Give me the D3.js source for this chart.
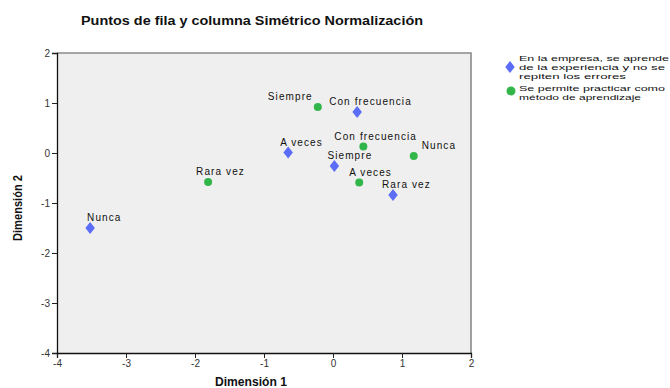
<!DOCTYPE html>
<html>
<head>
<meta charset="utf-8">
<script src="https://cdn.jsdelivr.net/npm/d3@7"></script>
<style>
  html, body { margin: 0; padding: 0; background: #fff; }
  svg { display: block; font-family: "Liberation Sans", Arial, sans-serif; }
</style>
</head>
<body>
<svg id="chart" width="670" height="388"></svg>
<script>
// Category labels shared by both variables
const rowCategories = ["Nunca", "A veces", "Con frecuencia", "Siempre", "Rara vez"];
const colCategories = ["Siempre", "Con frecuencia", "Nunca", "A veces", "Rara vez"];

// Row points (dimension 1, dimension 2)
const rowDim1 = [-3.52, -0.65, 0.35, 0.02, 0.87];
const rowDim2 = [-1.50, 0.01, 0.82, -0.26, -0.84];

// Column points (dimension 1, dimension 2)
const colDim1 = [-0.22, 0.44, 1.17, 0.38, -1.81];
const colDim2 = [0.92, 0.13, -0.06, -0.59, -0.58];

// Horizontal nudges for the point labels (px from the marker)
const rowLabelDx = [-3, -8, -28, -7, -11];
const colLabelDx = [-50, -29, 8, -10, -12];

const axisTicks = [-4, -3, -2, -1, 0, 1, 2];

const seriesNames = [
  ["En la empresa, se aprende", "de la experiencia y no se", "repiten los errores"],
  ["Se permite practicar como", "método de aprendizaje"]
];

const blue = "#5b6cf7";
const green = "#32b64a";

const svg = d3.select("#chart");
const x = d3.scaleLinear().domain([-4, 2]).range([57, 471]);
const y = d3.scaleLinear().domain([-4, 2]).range([353, 53]);

// Plot background
svg.append("rect")
  .attr("x", x(-4)).attr("y", y(2))
  .attr("width", x(2) - x(-4)).attr("height", y(-4) - y(2))
  .attr("fill", "#efefef");

// Top and right frame
svg.append("path")
  .attr("d", `M${x(-4)},${y(2)}H${x(2)}V${y(-4)}`)
  .attr("fill", "none").attr("stroke", "#8a8a8a").attr("stroke-width", 1.6);

// Axes (plain hyphen for negative ticks)
const tickFmt = d => String(d);
const xAxis = d3.axisBottom(x).tickValues(axisTicks).tickSize(5).tickPadding(2).tickFormat(tickFmt);
const yAxis = d3.axisLeft(y).tickValues(axisTicks).tickSize(5).tickPadding(2).tickFormat(tickFmt);

const gx = svg.append("g").attr("transform", `translate(0,${y(-4)})`).call(xAxis);
const gy = svg.append("g").attr("transform", `translate(${x(-4)},0)`).call(yAxis);

[gx, gy].forEach(g => {
  g.select(".domain").attr("stroke", "#111").attr("stroke-width", 1.3);
  g.selectAll(".tick line").attr("stroke", "#222");
  g.selectAll(".tick text")
    .attr("fill", "#333")
    .style("font-size", "10px")
    .style("font-family", "Liberation Sans, Arial, sans-serif");
});
gy.selectAll(".tick text").attr("dy", "0.35em");

// Markers
const diamond = d3.symbol().type(d3.symbolDiamond).size(50);

const rows = rowCategories.map((c, i) => ({ name: c, d1: rowDim1[i], d2: rowDim2[i], dx: rowLabelDx[i] }));
const cols = colCategories.map((c, i) => ({ name: c, d1: colDim1[i], d2: colDim2[i], dx: colLabelDx[i] }));

svg.append("g").selectAll("path")
  .data(rows).join("path")
  .attr("d", diamond)
  .attr("transform", d => `translate(${x(d.d1)},${y(d.d2)}) scale(1.25,0.9)`)
  .attr("fill", blue);

svg.append("g").selectAll("circle")
  .data(cols).join("circle")
  .attr("cx", d => x(d.d1)).attr("cy", d => y(d.d2))
  .attr("r", 4)
  .attr("fill", green);

// Point labels
const labelStyle = sel => sel
  .attr("fill", "#111")
  .style("font-size", "10px")
  .style("letter-spacing", "1.1px");

svg.append("g").selectAll("text")
  .data(rows.concat(cols)).join("text")
  .attr("x", d => x(d.d1) + d.dx)
  .attr("y", d => y(d.d2) - 7)
  .text(d => d.name)
  .call(labelStyle);

// Title
svg.append("text")
  .attr("x", 252).attr("y", 25)
  .attr("text-anchor", "middle")
  .attr("fill", "#111")
  .style("font-size", "13px").style("font-weight", "bold")
  .attr("textLength", 342).attr("lengthAdjust", "spacingAndGlyphs")
  .text("Puntos de fila y columna Simétrico Normalización");

// Axis titles
svg.append("text")
  .attr("x", 251).attr("y", 386)
  .attr("text-anchor", "middle")
  .attr("fill", "#111")
  .style("font-size", "12px").style("font-weight", "bold")
  .attr("textLength", 72).attr("lengthAdjust", "spacingAndGlyphs")
  .text("Dimensión 1");

svg.append("text")
  .attr("transform", "translate(22,208) rotate(-90)")
  .attr("text-anchor", "middle")
  .attr("fill", "#111")
  .style("font-size", "12px").style("font-weight", "bold")
  .attr("textLength", 66).attr("lengthAdjust", "spacingAndGlyphs")
  .text("Dimensión 2");

// Legend
const legend = svg.append("g");
legend.append("path")
  .attr("d", diamond)
  .attr("transform", "translate(510,67) scale(1.25,0.9)")
  .attr("fill", blue);
legend.append("circle").attr("cx", 511).attr("cy", 91).attr("r", 4.5).attr("fill", green);

const legendLines = [
  { text: seriesNames[0][0], y: 61, w: 150 },
  { text: seriesNames[0][1], y: 70.2, w: 146 },
  { text: seriesNames[0][2], y: 79.4, w: 107 },
  { text: seriesNames[1][0], y: 91, w: 146 },
  { text: seriesNames[1][1], y: 100.2, w: 122 }
];
legend.selectAll("text")
  .data(legendLines).join("text")
  .attr("x", 519).attr("y", d => d.y)
  .attr("fill", "#111")
  .style("font-size", "8px")
  .attr("textLength", d => d.w).attr("lengthAdjust", "spacingAndGlyphs")
  .text(d => d.text);
</script>
</body>
</html>
